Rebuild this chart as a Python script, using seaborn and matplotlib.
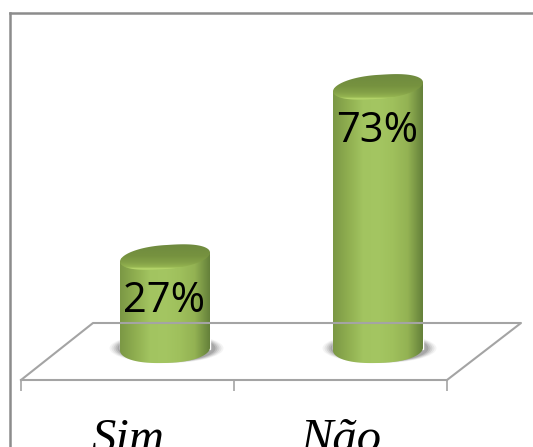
import numpy as np
import pandas as pd
import matplotlib
matplotlib.use("Agg")
import matplotlib.pyplot as plt
from matplotlib.colors import LinearSegmentedColormap
from matplotlib.lines import Line2D
from matplotlib.patches import PathPatch, Ellipse
from matplotlib.path import Path
import seaborn as sns

categories = ["Sim", "Não"]
values = [27, 73]
value_labels = ["27%", "73%"]

W, H = 533, 447
sns.set_theme(style="white")
fig = plt.figure(figsize=(W / 100, H / 100), dpi=100, facecolor="white")
AX_BOTTOM = 380
ax = fig.add_axes([0, (H - AX_BOTTOM) / H, 1, AX_BOTTOM / H])
ax.patch.set_alpha(0)

df = pd.DataFrame({"categoria": categories, "valor": values})
sns.barplot(data=df, x="categoria", y="valor", color="#9cbf5a", width=90 / 213,
            saturation=1, ax=ax, zorder=2)

PX_X = 213.0
PX_Y = 3.70
XLIM = (-127.5 / PX_X, (W - 127.5) / PX_X)
YLIM = ((357 - AX_BOTTOM) / PX_Y, 357 / PX_Y)
ax.set_xlabel("")
ax.set_ylabel("")
ax.set_yticks([])

GRAY = "#a4a4a4"
for s in ("top", "left", "right"):
    ax.spines[s].set_visible(False)
ax.spines["bottom"].set_color(GRAY)
ax.spines["bottom"].set_linewidth(1.5)
ax.spines["bottom"].set_bounds(-0.5, 1.5)
ax.set_xticks([-0.5, 0.5, 1.5], minor=True)
ax.tick_params(axis="x", which="minor", length=8, width=1.2, color=GRAY, direction="out", bottom=True)
ax.tick_params(axis="x", which="major", length=0, pad=27)
for lab in ax.get_xticklabels():
    lab.set_fontfamily("Liberation Serif")
    lab.set_fontstyle("italic")
    lab.set_fontsize(35)
    lab.set_color("black")


def fx(px):
    return px / W


def fy(py):
    return 1 - py / H


def fig_line(xs, ys, color, lw):
    fig.add_artist(Line2D([fx(x) for x in xs], [fy(y) for y in ys], color=color, lw=lw,
                          transform=fig.transFigure, solid_capstyle="projecting"))


# chart frame, cropped at the right and bottom of the image
fig_line([10, 10], [13, 447], "#8c8c8c", 1.8)
fig_line([10, 533], [13, 13], "#8c8c8c", 1.8)
# floor of the 3D plot
fig_line([21, 93, 521, 447], [380, 323, 323, 380], GRAY, 1.5)

body_cmap = LinearSegmentedColormap.from_list(
    "body", ["#7b9845", "#8fae50", "#a2c460", "#a4c662", "#9fc05c", "#93b253", "#64803a"])
top_cmap = LinearSegmentedColormap.from_list(
    "top", [(0, "#6f8a3f"), (0.45, "#76923f"), (0.7, "#83a047"), (0.88, "#94b450"),
            (0.96, "#bcdc70"), (1, "#a8ca60")])

OFFSET = 37.5 / PX_X          # oblique shift of the columns from the axis categories
BASE = (357 - 349) / PX_Y     # cylinder foot, in value units
B_TOP, K_TOP = 12 / PX_Y, 4.5 / PX_Y
B_BOT, K_BOT = 14 / PX_Y, 1.5 / PX_Y
ROUND = 0.85                  # slightly rounder than a true ellipse, as in the bevelled caps


def ring(cx, cy, a, b, k, t):
    c, s = np.cos(t), np.sin(t)
    xc = np.sign(c) * np.abs(c) ** ROUND
    return cx + a * xc, cy + b * s + k * c


for patch, v, lab in zip(ax.patches, values, value_labels):
    x0, w = patch.get_x() + OFFSET, patch.get_width()
    patch.set_x(x0)
    patch.set_y(BASE)
    patch.set_height(v - BASE)
    cx, a = x0 + w / 2, w / 2

    # soft shadow on the floor
    for grow, alpha in zip((12, 10, 8, 6, 4), (0.06, 0.09, 0.12, 0.16, 0.20)):
        ax.add_patch(Ellipse((cx + 1.5 / PX_X, BASE + 0.2), 2 * a + 2 * grow / PX_X,
                             (26 + grow * 0.3) / PX_Y, facecolor="#505050", alpha=alpha,
                             edgecolor="none", zorder=1))

    # cylinder body: lower edge left to right, then up to the cap
    t_low = np.linspace(np.pi, 2 * np.pi, 60)
    xb, yb = ring(cx, BASE, a, B_BOT, K_BOT, t_low)
    xr, yr = ring(cx, v, a, B_TOP, K_TOP, 0.0)
    xl, yl = ring(cx, v, a, B_TOP, K_TOP, np.pi)
    verts = np.vstack([np.column_stack([xb, yb]), [[xr, yr], [xl, yl], [xb[0], yb[0]]]])
    body = PathPatch(Path(verts, closed=True), facecolor="none", edgecolor="none",
                     transform=ax.transData)
    ax.add_patch(body)
    im = ax.imshow(np.linspace(0, 1, 256).reshape(1, -1), cmap=body_cmap, aspect="auto",
                   extent=(x0, x0 + w, BASE - 6, v + 6), zorder=3, interpolation="bilinear")
    im.set_clip_path(body)

    # top cap
    t = np.linspace(0, 2 * np.pi, 160)
    xt, yt = ring(cx, v, a, B_TOP, K_TOP, t)
    cap = PathPatch(Path(np.column_stack([xt, yt]), closed=True), facecolor="none",
                    edgecolor="none", transform=ax.transData)
    ax.add_patch(cap)
    im2 = ax.imshow(np.linspace(0, 1, 256).reshape(-1, 1), cmap=top_cmap, aspect="auto",
                    extent=(x0, x0 + w, yt.min(), yt.max()), origin="upper", zorder=4,
                    interpolation="bilinear")
    im2.set_clip_path(cap)

    ax.annotate(lab, xy=(cx, v), xytext=(-0.7, -31.5), textcoords="offset points",
                ha="center", va="center", fontsize=30, family="Open Sans", color="black", zorder=6)

# imshow resets limits
ax.set_xlim(*XLIM)
ax.set_ylim(*YLIM)

fig.savefig("out.png", dpi=100, facecolor="white")
